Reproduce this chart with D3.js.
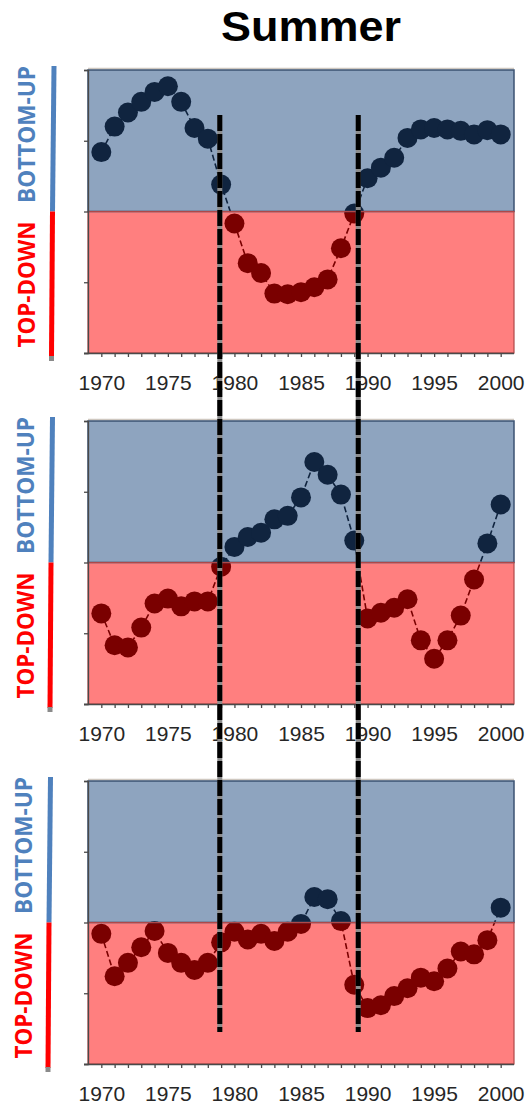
<!DOCTYPE html>
<html>
<head>
<meta charset="utf-8">
<script src="https://cdn.jsdelivr.net/npm/d3@7"></script>
<style>
  html, body { margin: 0; padding: 0; background: #fff; }
  svg { display: block; }
</style>
</head>
<body>
<svg id="chart" width="530" height="1104"></svg>
<script>
// Years on the x axis
const years = [1970, 1971, 1972, 1973, 1974, 1975, 1976, 1977, 1978, 1979,
               1980, 1981, 1982, 1983, 1984, 1985, 1986, 1987, 1988, 1989,
               1990, 1991, 1992, 1993, 1994, 1995, 1996, 1997, 1998, 1999, 2000];

// Control index per year (positive = bottom-up, negative = top-down)
const panelA = [0.84, 1.20, 1.40, 1.55, 1.69, 1.77, 1.55, 1.18, 1.03, 0.38,
                -0.17, -0.73, -0.87, -1.16, -1.17, -1.14, -1.07, -0.96, -0.52, -0.03,
                0.47, 0.62, 0.76, 1.04, 1.16, 1.18, 1.16, 1.14, 1.09, 1.15, 1.09];
const panelB = [-0.72, -1.17, -1.20, -0.92, -0.58, -0.51, -0.62, -0.55, -0.55, -0.06,
                0.22, 0.36, 0.42, 0.61, 0.66, 0.92, 1.42, 1.24, 0.96, 0.31,
                -0.79, -0.71, -0.64, -0.52, -1.10, -1.36, -1.10, -0.75, -0.24, 0.27, 0.82];
const panelC = [-0.16, -0.76, -0.57, -0.35, -0.12, -0.43, -0.57, -0.67, -0.57, -0.28,
                -0.13, -0.24, -0.16, -0.26, -0.13, -0.02, 0.36, 0.33, 0.02, -0.88,
                -1.21, -1.17, -1.04, -0.93, -0.78, -0.83, -0.65, -0.41, -0.45, -0.25, 0.21];

const seriesList = [panelA, panelB, panelC];

// Axis ticks
const yTicks = [-2, -1, 0, 1, 2];
const xTickLabels = [1970, 1975, 1980, 1985, 1990, 1995, 2000];

// Regime-shift markers (year positions)
const shiftYears = [1978.9, 1989.3];

const titleText = "Summer";
const upperLabel = "BOTTOM-UP";
const lowerLabel = "TOP-DOWN";

// ---- layout ----
const svg = d3.select("#chart");
const left = 88, right = 514, panelH = 283;
const panelTops = [70, 421, 781];
const sideShift = [0, -1.5, -3.5];

const x = d3.scaleLinear().domain([1969, 2001]).range([left, right]);

const navy = "#10243f", maroon = "#7a0000";

svg.append("text")
  .attr("x", 311).attr("y", 41)
  .attr("text-anchor", "middle")
  .attr("font-family", "'Liberation Sans', Arial, sans-serif")
  .attr("font-weight", 700)
  .attr("font-size", 43)
  .attr("textLength", 180)
  .attr("lengthAdjust", "spacingAndGlyphs")
  .attr("fill", "#000")
  .text(titleText);

const defs = svg.append("defs");

seriesList.forEach((values, i) => {
  const top = panelTops[i];
  const y = d3.scaleLinear().domain([-2, 2]).range([top + panelH, top]);
  const mid = y(0);
  const g = svg.append("g");
  const pts = years.map((yr, k) => [yr, values[k]]);

  // soft shadow along the top edge
  g.append("line")
    .attr("x1", left).attr("x2", right)
    .attr("y1", top - 1.5).attr("y2", top - 1.5)
    .attr("stroke", "#cfc8c0").attr("stroke-width", 1.5);

  // background regions
  g.append("rect")
    .attr("x", left).attr("y", top).attr("width", right - left).attr("height", mid - top)
    .attr("fill", "#8ea4bf");
  g.append("rect")
    .attr("x", left).attr("y", mid).attr("width", right - left).attr("height", top + panelH - mid)
    .attr("fill", "#ff7f7f");

  // clip regions for two-tone marks
  defs.append("clipPath").attr("id", `up${i}`)
    .append("rect").attr("x", 0).attr("y", top - 30).attr("width", 530).attr("height", mid - top + 30);
  defs.append("clipPath").attr("id", `down${i}`)
    .append("rect").attr("x", 0).attr("y", mid).attr("width", 530).attr("height", top + panelH - mid + 30);

  const line = d3.line().x(d => x(d[0])).y(d => y(d[1]));

  [[`up${i}`, navy], [`down${i}`, maroon]].forEach(([clip, col]) => {
    const s = g.append("g").attr("clip-path", `url(#${clip})`);
    s.append("path")
      .datum(pts)
      .attr("d", line)
      .attr("fill", "none")
      .attr("stroke", col)
      .attr("stroke-width", 1.6)
      .attr("stroke-dasharray", "6,3");
    s.selectAll("circle")
      .data(pts)
      .join("circle")
      .attr("cx", d => x(d[0]))
      .attr("cy", d => y(d[1]))
      .attr("r", 10)
      .attr("fill", col);
  });

  // region borders
  g.append("rect")
    .attr("x", left).attr("y", top).attr("width", right - left).attr("height", mid - top)
    .attr("fill", "none").attr("stroke", "#3b5272").attr("stroke-width", 1.5);
  g.append("rect")
    .attr("x", left).attr("y", mid).attr("width", right - left).attr("height", top + panelH - mid)
    .attr("fill", "none").attr("stroke", "#b04848").attr("stroke-width", 1.2);

  // left axis (ticks only, no labels)
  const yAxis = g.append("g")
    .attr("transform", `translate(${left},0)`)
    .call(d3.axisLeft(y).tickValues(yTicks).tickSize(4).tickFormat(""));
  yAxis.selectAll("path, line").attr("stroke", "#4a4a4a").attr("stroke-width", 1.3);

  // bottom axis: a tick every year, labels every five years
  const xAxis = g.append("g")
    .attr("transform", `translate(0,${top + panelH})`)
    .call(d3.axisBottom(x).tickValues(years).tickSize(4).tickSizeOuter(0)
      .tickFormat(d => xTickLabels.includes(d) ? String(d) : ""));
  xAxis.select(".domain").attr("stroke", "#4a4a4a").attr("stroke-width", 1.3)
    .attr("d", `M${left - 4},0.5H${right}`);
  xAxis.selectAll("line").attr("stroke", "#4a4a4a").attr("stroke-width", 1.3);
  xAxis.selectAll("text")
    .attr("y", 37).attr("dy", 0)
    .attr("font-family", "'Liberation Sans', Arial, sans-serif")
    .attr("font-size", 21)
    .attr("fill", "#262626");

  // side labels with coloured guide bars
  const sx = sideShift[i];
  g.append("line")
    .attr("x1", 54 + sx).attr("x2", 52.5 + sx)
    .attr("y1", top - 4).attr("y2", mid)
    .attr("stroke", "#4f81bd").attr("stroke-width", 5);
  g.append("line")
    .attr("x1", 52.5 + sx).attr("x2", 51.5 + sx)
    .attr("y1", mid).attr("y2", top + panelH + 4)
    .attr("stroke", "#ff0000").attr("stroke-width", 5);
  g.append("line")
    .attr("x1", 51.5 + sx).attr("x2", 51.5 + sx)
    .attr("y1", top + panelH + 3).attr("y2", top + panelH + 8)
    .attr("stroke", "#8a8a8a").attr("stroke-width", 5);

  g.append("text")
    .attr("transform", `translate(${35 + sx},${mid - 77}) rotate(-90)`)
    .attr("text-anchor", "middle")
    .attr("font-family", "'Open Sans', sans-serif")
    .attr("font-weight", 700).attr("font-size", 23)
    .attr("textLength", 137).attr("lengthAdjust", "spacingAndGlyphs")
    .attr("fill", "#4f81bd")
    .text(upperLabel);
  g.append("text")
    .attr("transform", `translate(${35 + sx},${mid + 73}) rotate(-90)`)
    .attr("text-anchor", "middle")
    .attr("font-family", "'Open Sans', sans-serif")
    .attr("font-weight", 700).attr("font-size", 23)
    .attr("textLength", 126).attr("lengthAdjust", "spacingAndGlyphs")
    .attr("fill", "#ff0000")
    .text(lowerLabel);
});

// regime-shift markers spanning all panels
shiftYears.forEach(yr => {
  const gx = x(yr);
  svg.append("line")
    .attr("x1", gx).attr("x2", gx).attr("y1", 115).attr("y2", 1032)
    .attr("stroke", "#8c8c8c").attr("stroke-width", 5);
  svg.append("line")
    .attr("x1", gx).attr("x2", gx).attr("y1", 115).attr("y2", 1032)
    .attr("stroke", "#000").attr("stroke-width", 5)
    .attr("stroke-dasharray", "16,3");
});
</script>
</body>
</html>
